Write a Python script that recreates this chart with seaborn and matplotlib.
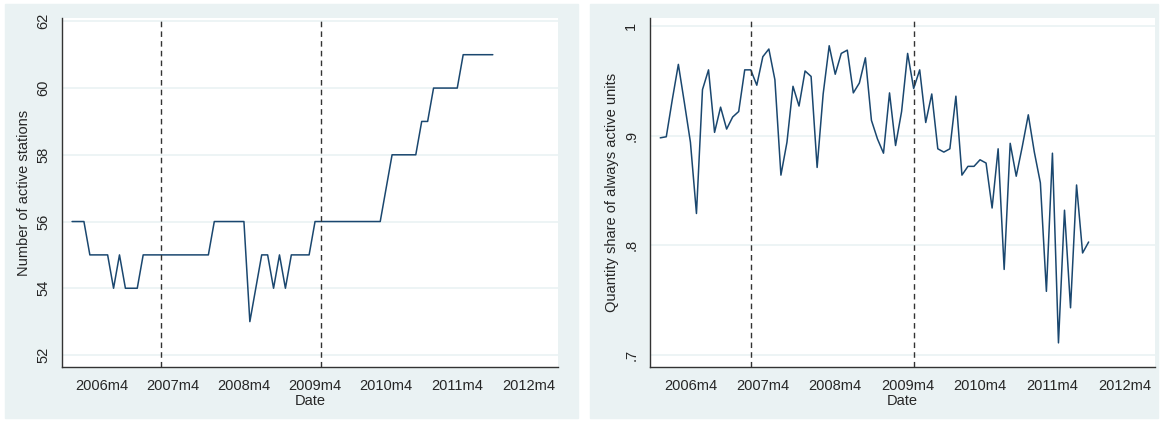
import pandas as pd
import matplotlib
matplotlib.use("Agg")
import matplotlib.pyplot as plt
from matplotlib.patches import Rectangle
import seaborn as sns

# monthly series, 2005m11 .. 2011m10
start_year, start_month = 2005, 11
stations = [56, 56, 56, 55, 55, 55, 55, 54, 55, 54, 54, 54, 55, 55, 55, 55, 55, 55,
            55, 55, 55, 55, 55, 55, 56, 56, 56, 56, 56, 56, 53, 54, 55, 55, 54, 55,
            54, 55, 55, 55, 55, 56, 56, 56, 56, 56, 56, 56, 56, 56, 56, 56, 56, 57,
            58, 58, 58, 58, 58, 59, 59, 60, 60, 60, 60, 60, 61, 61, 61, 61, 61, 61]
share = [.898, .899, .933, .965, .930, .894, .829, .942, .960, .903, .926, .906,
         .917, .922, .960, .960, .946, .972, .979, .951, .864, .894, .945, .927,
         .959, .954, .871, .938, .982, .956, .975, .978, .939, .948, .971, .914,
         .897, .884, .939, .891, .922, .975, .943, .960, .912, .938, .888, .885,
         .888, .936, .864, .872, .872, .878, .875, .834, .888, .778, .893, .863,
         .890, .919, .885, .857, .758, .884, .711, .832, .743, .855, .793, .803]
breaks = [15, 42]  # 2007m2, 2009m5
tick_idx = [5 + 12 * k for k in range(7)]
tick_lab = [f"{2006 + k}m4" for k in range(7)]

df = pd.DataFrame({"t": range(len(stations)), "stations": stations, "share": share})

sns.set_style("white")
plt.rcParams["font.family"] = ["Liberation Sans", "DejaVu Sans"]
bg = "#eaf2f3"
line_c = "#1a476f"

fig = plt.figure(figsize=(11.61, 4.22), dpi=100)
fig.patches.append(Rectangle((5 / 1161, 4 / 422), 573 / 1161, 414 / 422,
                             transform=fig.transFigure, color=bg, zorder=-1))
fig.patches.append(Rectangle((590 / 1161, 4 / 422), 568 / 1161, 414 / 422,
                             transform=fig.transFigure, color=bg, zorder=-1))

ax1 = fig.add_axes([62 / 1161, 55 / 422, 496 / 1161, 349 / 422])
ax2 = fig.add_axes([650 / 1161, 55 / 422, 505 / 1161, 349 / 422])

specs = [(ax1, "stations", "Number of active stations", (51.64, 62.1), [52, 54, 56, 58, 60, 62],
          ["52", "54", "56", "58", "60", "62"]),
         (ax2, "share", "Quantity share of always active units", (0.689, 1.0073), [.7, .8, .9, 1.0],
          [".7", ".8", ".9", "1"])]

for ax, col, ylab, ylim, yt, ytl in specs:
    ax.set_facecolor("white")
    for y in yt:
        ax.axhline(y, color=bg, lw=1.2, zorder=0)
    sns.lineplot(data=df, x="t", y=col, ax=ax, color=line_c, lw=1.1)
    for b in breaks:
        ax.axvline(b, color="#333333", ls=(0, (4, 3)), lw=1)
    ax.set_xlim(-1.7, 82)
    ax.set_ylim(*ylim)
    ax.set_xticks(tick_idx)
    ax.set_xticklabels(tick_lab, fontsize=10.5)
    ax.set_yticks(yt)
    ax.set_yticklabels(ytl, rotation=90, va="center", fontsize=10.5)
    ax.tick_params(axis="both", length=5, width=1, color="#333333", direction="out")
    ax.set_xlabel("Date", fontsize=10.5, labelpad=1)
    ax.set_ylabel(ylab, fontsize=10.5)
    for s in ["top", "right"]:
        ax.spines[s].set_visible(False)
    for s in ["left", "bottom"]:
        ax.spines[s].set_color("#333333")
        ax.spines[s].set_linewidth(1)

fig.savefig("out.png", dpi=100)
